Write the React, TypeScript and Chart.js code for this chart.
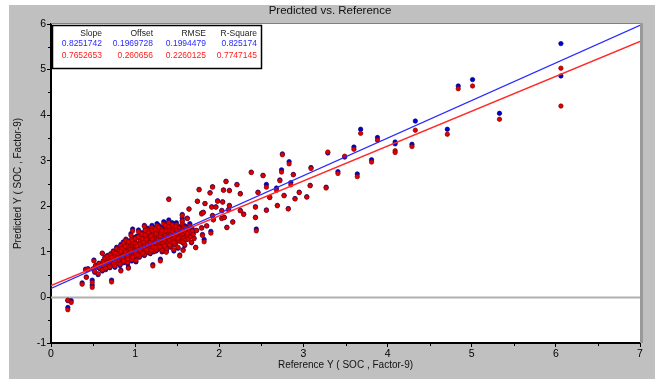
import React, { useEffect, useRef } from 'react';
import { Chart, registerables } from 'chart.js';

Chart.register(...registerables);

// ---- Data ----
const chartTitle = 'Predicted vs. Reference';
const xTitle = 'Reference Y ( SOC , Factor-9)';
const yTitle = 'Predicted Y ( SOC , Factor-9)';

const statHeaders = ['Slope', 'Offset', 'RMSE', 'R-Square'];
const statsA = ['0.8251742', '0.1969728', '0.1994479', '0.825174'];
const statsB = ['0.7652653', '0.260656', '0.2260125', '0.7747145'];

// dense cluster: reference values
const clusterRef = [
  0.50, 0.52, 0.53, 0.55, 0.56, 0.57, 0.58, 0.60, 0.61, 0.62,
  0.63, 0.64, 0.65, 0.66, 0.67, 0.68, 0.69, 0.70, 0.71, 0.72,
  0.73, 0.74, 0.74, 0.75, 0.76, 0.77, 0.78, 0.78, 0.79, 0.80,
  0.80, 0.81, 0.82, 0.82, 0.83, 0.84, 0.84, 0.85, 0.86, 0.86,
  0.87, 0.87, 0.88, 0.89, 0.89, 0.90, 0.90, 0.91, 0.92, 0.92,
  0.93, 0.93, 0.94, 0.95, 0.95, 0.96, 0.96, 0.97, 0.98, 0.98,
  0.99, 0.99, 1.00, 1.00, 1.01, 1.02, 1.02, 1.03, 1.04, 1.04,
  1.05, 1.05, 1.06, 1.07, 1.07, 1.08, 1.08, 1.09, 1.10, 1.10,
  1.11, 1.11, 1.12, 1.12, 1.13, 1.14, 1.14, 1.15, 1.16, 1.16,
  1.17, 1.17, 1.18, 1.18, 1.19, 1.20, 1.20, 1.21, 1.22, 1.22,
  1.23, 1.23, 1.24, 1.25, 1.25, 1.26, 1.26, 1.27, 1.28, 1.28,
  1.29, 1.29, 1.30, 1.30, 1.31, 1.32, 1.32, 1.33, 1.34, 1.34,
  1.35, 1.35, 1.36, 1.36, 1.37, 1.38, 1.38, 1.39, 1.40, 1.40,
  1.41, 1.41, 1.42, 1.43, 1.43, 1.44, 1.45, 1.45, 1.46, 1.46,
  1.47, 1.48, 1.48, 1.49, 1.50, 1.50, 1.51, 1.52, 1.52, 1.53,
  1.54, 1.55, 1.55, 1.56, 1.57, 1.58, 1.58, 1.59, 1.60, 1.60,
  1.61, 1.62, 1.63, 1.64, 1.65, 1.66, 1.67, 1.68, 1.69, 1.70,
  0.88, 0.91, 0.94, 0.97, 1.00, 1.03, 1.06, 1.09, 1.12, 1.15,
  1.18, 1.21, 1.24, 1.27, 1.30, 1.33, 1.36, 1.39, 1.42, 1.45,
  0.82, 0.85, 0.90, 0.95, 1.00, 1.05, 1.10, 1.15, 1.20, 1.25,
  1.02, 1.08, 1.13, 1.19, 1.26, 1.31, 1.37, 1.44, 1.49, 1.56,
  0.96, 1.01, 1.06, 1.11, 1.16, 1.21, 1.27, 1.33, 1.39, 1.47,
  0.84, 0.88, 0.92, 0.96, 1.00, 1.04, 1.08, 1.12, 1.16, 1.20,
  1.24, 1.28, 1.32, 1.36, 1.40, 1.44, 1.48, 1.52, 1.56, 1.60,
  0.86, 0.91, 0.97, 1.03, 1.09, 1.14, 1.19, 1.24, 1.29, 1.35,
  0.68, 0.72, 0.76, 0.79, 0.83, 1.41, 1.46, 1.51, 1.57, 1.62,
];
// dense cluster: predicted (blue series)
const clusterPredA = [
  0.62, 0.55, 0.70, 0.66, 0.50, 0.75, 0.63, 0.72, 0.58, 0.80,
  0.68, 0.88, 0.61, 0.77, 0.92, 0.70, 0.83, 0.65, 0.96, 0.78,
  0.86, 0.72, 1.02, 0.90, 0.66, 0.98, 0.82, 1.10, 0.75, 0.93,
  0.80, 1.05, 0.88, 0.70, 1.16, 0.94, 0.84, 1.00, 0.76, 1.22,
  0.92, 1.08, 0.82, 0.98, 1.28, 0.88, 1.14, 0.74, 1.02, 0.94,
  1.10, 0.86, 1.20, 0.96, 1.40, 1.04, 0.80, 1.16, 0.92, 1.30,
  1.00, 1.24, 0.90, 1.12, 0.78, 1.06, 1.34, 0.96, 1.18, 1.48,
  1.08, 0.88, 1.26, 1.00, 1.14, 0.94, 1.38, 1.20, 1.04, 1.30,
  1.16, 0.92, 1.44, 1.08, 1.24, 0.98, 1.12, 1.52, 1.34, 1.02,
  1.20, 1.06, 1.36, 0.96, 1.28, 1.12, 1.58, 1.18, 1.44, 1.00,
  1.24, 1.10, 1.40, 1.02, 1.30, 1.16, 1.62, 1.48, 1.06, 1.34,
  1.20, 1.42, 1.08, 1.30, 1.54, 1.26, 1.00, 1.36, 1.14, 1.66,
  1.28, 1.46, 1.16, 1.38, 1.04, 1.56, 1.32, 1.22, 1.70, 1.42,
  1.26, 1.50, 1.10, 1.36, 1.60, 1.20, 1.44, 1.30, 1.02, 1.54,
  1.34, 1.18, 1.48, 1.64, 1.28, 1.40, 1.08, 1.56, 1.24, 1.44,
  1.36, 1.52, 1.22, 1.68, 1.42, 1.30, 1.58, 1.14, 1.46, 1.26,
  1.38, 1.54, 1.28, 1.46, 1.62, 1.34, 1.20, 1.50, 1.40, 1.30,
  1.00, 0.90, 1.06, 1.22, 1.16, 1.10, 1.20, 1.28, 1.04, 1.18,
  1.22, 1.32, 1.20, 1.26, 1.38, 1.18, 1.50, 1.36, 1.40, 1.22,
  0.98, 0.86, 1.16, 1.00, 1.20, 1.16, 1.24, 1.10, 1.30, 1.44,
  1.14, 1.32, 1.30, 1.38, 1.52, 1.46, 1.60, 1.64, 1.52, 1.74,
  0.88, 0.98, 1.02, 1.10, 1.06, 1.08, 1.12, 1.12, 1.16, 1.16,
  1.08, 1.14, 1.24, 1.28, 1.32, 1.36, 1.42, 1.40, 1.46, 1.50,
  1.54, 1.58, 1.50, 1.62, 1.58, 1.46, 1.60, 1.34, 1.50, 1.56,
  0.78, 0.82, 0.86, 0.92, 0.96, 1.04, 1.02, 1.08, 1.10, 1.12,
  0.76, 0.88, 0.78, 0.86, 1.02, 1.14, 1.20, 1.30, 1.20, 1.42,
];
// dense cluster: predicted (red series)
const clusterPredB = [
  0.63, 0.57, 0.69, 0.68, 0.52, 0.74, 0.65, 0.71, 0.60, 0.79,
  0.70, 0.86, 0.64, 0.78, 0.90, 0.72, 0.84, 0.67, 0.94, 0.80,
  0.87, 0.74, 1.00, 0.91, 0.69, 0.97, 0.84, 1.07, 0.77, 0.93,
  0.82, 1.04, 0.89, 0.73, 1.13, 0.95, 0.86, 1.00, 0.78, 1.19,
  0.93, 1.07, 0.84, 0.99, 1.25, 0.89, 1.12, 0.77, 1.02, 0.95,
  1.09, 0.88, 1.18, 0.97, 1.36, 1.04, 0.83, 1.14, 0.93, 1.27,
  1.01, 1.22, 0.92, 1.11, 0.81, 1.06, 1.31, 0.97, 1.16, 1.44,
  1.08, 0.90, 1.24, 1.01, 1.13, 0.96, 1.35, 1.18, 1.05, 1.28,
  1.15, 0.94, 1.40, 1.09, 1.22, 1.00, 1.12, 1.48, 1.31, 1.03,
  1.19, 1.07, 1.33, 0.98, 1.26, 1.12, 1.53, 1.17, 1.41, 1.02,
  1.23, 1.11, 1.37, 1.04, 1.28, 1.16, 1.57, 1.45, 1.08, 1.32,
  1.20, 1.39, 1.10, 1.29, 1.50, 1.25, 1.03, 1.34, 1.15, 1.61,
  1.27, 1.43, 1.17, 1.36, 1.06, 1.52, 1.31, 1.22, 1.64, 1.40,
  1.26, 1.47, 1.12, 1.35, 1.56, 1.20, 1.42, 1.29, 1.05, 1.50,
  1.33, 1.19, 1.45, 1.59, 1.28, 1.38, 1.10, 1.52, 1.24, 1.42,
  1.35, 1.48, 1.22, 1.63, 1.40, 1.30, 1.54, 1.16, 1.43, 1.26,
  1.37, 1.50, 1.28, 1.44, 1.57, 1.33, 1.21, 1.46, 1.38, 1.29,
  1.00, 0.91, 1.05, 1.20, 1.14, 1.09, 1.18, 1.25, 1.05, 1.17,
  1.21, 1.30, 1.20, 1.25, 1.35, 1.18, 1.46, 1.34, 1.38, 1.22,
  0.98, 0.88, 1.14, 1.01, 1.18, 1.15, 1.22, 1.10, 1.28, 1.40,
  1.13, 1.29, 1.28, 1.35, 1.48, 1.42, 1.55, 1.59, 1.48, 1.68,
  0.90, 0.99, 1.03, 1.10, 1.07, 1.09, 1.13, 1.13, 1.17, 1.17,
  1.07, 1.12, 1.22, 1.26, 1.29, 1.33, 1.39, 1.37, 1.43, 1.47,
  1.50, 1.54, 1.47, 1.58, 1.55, 1.44, 1.56, 1.33, 1.47, 1.52,
  0.80, 0.84, 0.88, 0.93, 0.97, 1.05, 1.03, 1.09, 1.11, 1.13,
  0.77, 0.88, 0.80, 0.87, 1.01, 1.15, 1.21, 1.30, 1.21, 1.40,
];

// sparse samples: reference values
const sparseRef = [
  0.20, 0.20, 0.24, 0.37, 0.42, 0.49, 0.49, 0.72, 0.41, 0.44,
  0.51, 0.61, 0.83, 0.92, 1.21, 1.30, 1.53, 1.57, 1.37, 1.12,
  0.97, 1.11, 1.40, 1.56, 1.79, 1.72, 1.73, 1.80, 1.82, 1.90,
  1.74, 1.76, 1.83, 1.81, 1.85, 1.79, 1.62, 1.64, 1.89, 1.91,
  1.92, 1.92, 1.93, 1.96, 1.98, 2.03, 2.03, 2.04, 2.05, 2.06,
  2.08, 2.09, 2.11, 2.12, 2.12, 2.16, 2.21, 2.25, 2.25, 2.29,
  2.38, 2.43, 2.43, 2.44, 2.46, 2.52, 2.56, 2.56, 2.60, 2.68,
  2.69, 2.72, 2.74, 2.75, 2.77, 2.82, 2.83, 2.85, 2.88, 2.90,
  2.95, 3.04, 3.08, 3.09, 3.27, 3.29, 3.41, 3.49, 3.60, 3.64,
  3.68, 3.81, 3.88, 4.09, 4.09, 4.29, 4.33, 4.71, 4.84, 5.01,
  5.33, 6.06, 6.06,
];
// sparse samples: predicted (blue series)
const sparsePredA = [
  -0.07, -0.22, -0.07, 0.32, 0.45, 0.38, 0.27, 0.38, 0.62, 0.63,
  0.82, 0.97, 0.60, 0.66, 0.72, 0.84, 0.93, 1.05, 1.01, 1.50,
  1.50, 1.58, 2.16, 1.82, 1.85, 1.10, 1.47, 1.38, 1.27, 1.45,
  2.11, 2.37, 2.06, 1.87, 1.57, 1.53, 1.74, 1.94, 2.30, 1.99,
  2.43, 1.80, 1.71, 1.99, 2.12, 1.91, 1.74, 2.10, 2.36, 1.76,
  2.55, 1.54, 1.93, 2.35, 2.02, 1.66, 2.48, 2.28, 1.91, 1.83,
  2.75, 1.99, 1.76, 1.50, 2.31, 2.68, 2.48, 1.92, 2.20, 2.40,
  2.02, 2.58, 2.80, 3.15, 2.24, 1.95, 2.98, 2.52, 2.70, 2.17,
  2.31, 2.21, 2.46, 2.85, 2.42, 3.17, 2.76, 3.08, 3.30, 2.71,
  3.69, 3.02, 3.51, 3.41, 3.37, 3.36, 3.87, 3.69, 4.64, 4.78,
  4.04, 5.57, 4.86,
];
// sparse samples: predicted (red series)
const sparsePredB = [
  -0.06, -0.27, -0.11, 0.29, 0.44, 0.33, 0.22, 0.34, 0.60, 0.62,
  0.80, 0.97, 0.58, 0.64, 0.69, 0.80, 0.91, 1.03, 0.99, 1.47,
  1.46, 1.56, 2.15, 1.80, 1.83, 1.09, 1.47, 1.36, 1.22, 1.41,
  2.11, 2.36, 2.06, 1.86, 1.57, 1.52, 1.73, 1.94, 2.29, 1.98,
  2.42, 1.79, 1.70, 1.98, 2.11, 1.90, 1.73, 2.09, 2.35, 1.75,
  2.54, 1.53, 1.92, 2.34, 2.01, 1.65, 2.47, 2.27, 1.90, 1.82,
  2.74, 1.98, 1.75, 1.46, 2.30, 2.67, 2.42, 1.91, 2.19, 2.35,
  2.01, 2.56, 2.75, 3.13, 2.23, 1.94, 2.93, 2.47, 2.69, 2.16,
  2.30, 2.20, 2.45, 2.83, 2.40, 3.19, 2.72, 3.10, 3.25, 2.65,
  3.60, 2.97, 3.45, 3.22, 3.18, 3.31, 3.67, 3.58, 4.58, 4.64,
  3.91, 5.03, 4.20,
];

const xRange = [0, 7];
const yRange = [-1, 6];

const FONT = "'Liberation Sans', Arial, Helvetica, sans-serif";

function buildPoints(ref: number[], pred: number[]) {
  const n = Math.min(ref.length, pred.length);
  const pts: { x: number; y: number }[] = [];
  for (let i = 0; i < n; i++) pts.push({ x: ref[i], y: pred[i] });
  return pts;
}

const decorPlugin = {
  id: 'decor',
  beforeDraw(chart: any) {
    const { ctx, chartArea } = chart;
    ctx.save();
    ctx.fillStyle = '#ffffff';
    ctx.fillRect(0, 0, chart.width, chart.height);
    ctx.fillStyle = '#c0c0c0';
    ctx.fillRect(9, 5, 646, 374);
    ctx.fillStyle = '#ffffff';
    ctx.fillRect(chartArea.left, chartArea.top, chartArea.right - chartArea.left, chartArea.bottom - chartArea.top);
    ctx.restore();
  },
  afterDraw(chart: any) {
    const { ctx, chartArea, scales } = chart;
    const xs = scales.x;
    const ys = scales.y;
    ctx.save();
    // frame top / right
    ctx.strokeStyle = '#808080';
    ctx.lineWidth = 1;
    ctx.beginPath();
    ctx.moveTo(chartArea.left, chartArea.top - 0.5);
    ctx.lineTo(chartArea.right + 1, chartArea.top - 0.5);
    ctx.stroke();
    ctx.strokeStyle = '#999999';
    ctx.lineWidth = 3;
    ctx.beginPath();
    ctx.moveTo(chartArea.right + 1.5, chartArea.top - 1);
    ctx.lineTo(chartArea.right + 1.5, chartArea.bottom);
    ctx.stroke();

    // minor ticks
    ctx.strokeStyle = '#000';
    ctx.lineWidth = 1;
    ctx.beginPath();
    for (let v = xRange[0] + 0.5; v < xRange[1]; v += 1) {
      const p = Math.round(xs.getPixelForValue(v)) + 0.5;
      ctx.moveTo(p, chartArea.bottom);
      ctx.lineTo(p, chartArea.bottom + 3);
    }
    for (let v = yRange[0] + 0.5; v < yRange[1]; v += 1) {
      const p = Math.round(ys.getPixelForValue(v)) + 0.5;
      ctx.moveTo(chartArea.left, p);
      ctx.lineTo(chartArea.left - 3, p);
    }
    ctx.stroke();

    // title
    ctx.fillStyle = '#111';
    ctx.font = `11.5px ${FONT}`;
    ctx.textAlign = 'center';
    ctx.textBaseline = 'middle';
    ctx.fillText(chartTitle, 330, 11);

    // stats box
    const bx = chartArea.left + 1.5;
    const by = chartArea.top + 1.5;
    const bw = 209;
    const bh = 43;
    ctx.fillStyle = '#fff';
    ctx.fillRect(bx, by, bw, bh);
    ctx.strokeStyle = '#000';
    ctx.lineWidth = 1.5;
    ctx.strokeRect(bx, by, bw, bh);
    const colX = [102, 153, 206, 257];
    ctx.textAlign = 'right';
    ctx.font = `8.5px ${FONT}`;
    ctx.fillStyle = '#222';
    statHeaders.forEach((t, i) => ctx.fillText(t, colX[i], 34));
    ctx.fillStyle = '#2a2aff';
    statsA.forEach((t, i) => ctx.fillText(t, colX[i], 44));
    ctx.fillStyle = '#ff2020';
    statsB.forEach((t, i) => ctx.fillText(t, colX[i], 56));
    ctx.restore();
  },
};

export default function App() {
  const canvasRef = useRef<HTMLCanvasElement | null>(null);

  useEffect(() => {
    if (!canvasRef.current) return;
    const slopeA = Number(statsA[0]);
    const offsetA = Number(statsA[1]);
    const slopeB = Number(statsB[0]);
    const offsetB = Number(statsB[1]);

    const refAll = [...clusterRef, ...sparseRef];
    const predAAll = [...clusterPredA, ...sparsePredA];
    const predBAll = [...clusterPredB, ...sparsePredB];

    const chart = new Chart(canvasRef.current, {
      type: 'scatter',
      data: {
        datasets: [
          {
            type: 'line',
            data: [
              { x: xRange[0], y: 0 },
              { x: xRange[1], y: 0 },
            ],
            borderColor: '#b0b0b0',
            borderWidth: 2,
            pointRadius: 0,
            order: 10,
          } as any,
          {
            data: buildPoints(refAll, predAAll),
            backgroundColor: '#0000d0',
            borderColor: '#000080',
            borderWidth: 0.7,
            pointRadius: 2.2,
            order: 5,
          },
          {
            data: buildPoints(refAll, predBAll),
            backgroundColor: '#e00000',
            borderColor: '#8a0000',
            borderWidth: 0.7,
            pointRadius: 2.2,
            order: 4,
          },
          {
            type: 'line',
            data: [
              { x: xRange[0], y: offsetB + slopeB * xRange[0] },
              { x: xRange[1], y: offsetB + slopeB * xRange[1] },
            ],
            borderColor: '#ff2a2a',
            borderWidth: 1.3,
            pointRadius: 0,
            order: 2,
          } as any,
          {
            type: 'line',
            data: [
              { x: xRange[0], y: offsetA + slopeA * xRange[0] },
              { x: xRange[1], y: offsetA + slopeA * xRange[1] },
            ],
            borderColor: '#2a2aff',
            borderWidth: 1.3,
            pointRadius: 0,
            order: 1,
          } as any,
        ],
      },
      options: {
        animation: false,
        responsive: false,
        devicePixelRatio: 1,
        events: [],
        layout: { padding: { top: 24, right: 25, left: 0, bottom: 0 } },
        plugins: {
          legend: { display: false },
          tooltip: { enabled: false },
          title: { display: false },
        },
        scales: {
          x: {
            type: 'linear',
            min: xRange[0],
            max: xRange[1],
            afterFit: (s: any) => {
              s.height = 40;
            },
            ticks: {
              stepSize: 1,
              color: '#000',
              padding: 1,
              font: { size: 10.5, family: FONT },
            },
            grid: {
              drawOnChartArea: false,
              drawTicks: true,
              tickLength: 4,
              color: '#000',
            },
            border: { color: '#000', width: 2 },
            title: {
              display: true,
              text: xTitle,
              color: '#111',
              font: { size: 10, family: FONT },
              padding: { top: 0, bottom: 12 },
            },
          },
          y: {
            type: 'linear',
            min: yRange[0],
            max: yRange[1],
            afterFit: (s: any) => {
              s.width = 51;
            },
            ticks: {
              stepSize: 1,
              color: '#000',
              padding: 1,
              font: { size: 10.5, family: FONT },
            },
            grid: {
              drawOnChartArea: false,
              drawTicks: true,
              tickLength: 4,
              color: '#000',
            },
            border: { color: '#000', width: 2 },
            title: {
              display: true,
              text: yTitle,
              color: '#111',
              font: { size: 10, family: FONT },
              padding: { top: 12, bottom: 0 },
            },
          },
        },
      } as any,
      plugins: [decorPlugin],
    });
    return () => chart.destroy();
  }, []);

  return (
    <div style={{ position: 'absolute', left: 0, top: 0, width: 665, height: 383 }}>
      <canvas ref={canvasRef} width={665} height={383} />
    </div>
  );
}
